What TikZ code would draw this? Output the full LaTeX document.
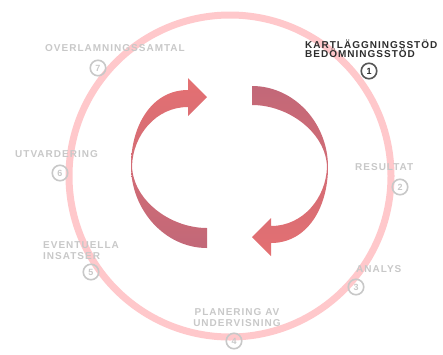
\documentclass[tikz,border=0pt]{standalone}
\usepackage{fontspec}
\usepackage{tikz}
\usetikzlibrary{shapes,positioning,calc}
\newfontfamily\lblfont[LetterSpace=10]{Liberation Sans}
\definecolor{ringpink}{RGB}{255,200,203}
\definecolor{lblgray}{RGB}{200,200,200}
\definecolor{lbldark}{RGB}{45,45,45}
\definecolor{arrlight}{RGB}{228,112,114}
\definecolor{arrdark}{RGB}{194,104,120}

\begin{document}
\begin{tikzpicture}[x=1pt, y=-1pt,
    lbl/.style={font=\lblfont\bfseries\fontsize{10}{11}\selectfont, text=lblgray, inner sep=0pt, align=left, anchor=base west},
    num/.style={draw=lblgray, circle, line width=1.6pt, minimum size=15.5pt, inner sep=0pt, text=lblgray, font=\lblfont\bfseries\fontsize{9}{9}\selectfont},
    cyclearrow/.style={draw=none}
]
\useasboundingbox (0,0) rectangle (443,354);

% Big ring
\draw[ringpink, line width=7pt] (230,176) circle (161);

% Cycle arrows
\shade[cyclearrow, top color=arrlight, bottom color=arrdark]
  (207,228) -- (207,248) .. controls (165,248) and (131,210) .. (131,166)
  .. controls (131,125) and (152,90) .. (188,90) -- (188,78) -- (207,97)
  -- (188,116) -- (188,107) .. controls (156,107) and (133,135) .. (132,166)
  .. controls (133,200) and (170,228) .. (207,228) -- cycle;
\shade[cyclearrow, top color=arrdark, bottom color=arrlight]
  (252,105) -- (252,86) .. controls (294,86) and (328,123) .. (328,167)
  .. controls (328,208) and (307,243) .. (271,243) -- (271,256) -- (252,237)
  -- (271,218) -- (271,226) .. controls (303,226) and (326,198) .. (327,167)
  .. controls (326,133) and (289,105) .. (252,105) -- cycle;

% Step 1
\node[lbl, text=lbldark, font=\lblfont\bfseries\fontsize{10}{9}\selectfont] (kart) at (305,57) {KARTLÄGGNINGSSTÖD\\BEDÖMNINGSSTÖD};
\node[num, draw=lbldark!80, text=lbldark] (n1) at (369,71) {1};

% Step 2
\node[lbl] (result) at (355,170) {RESULTAT};
\node[num] (n2) at (400,187) {2};

% Step 3
\node[lbl] (analys) at (356,272) {ANALYS};
\node[num] (n3) at (356,287) {3};

% Step 4
\node[lbl, align=center, anchor=base] (planering) at (237,326) {PLANERING AV\\UNDERVISNING};
\node[num] (n4) at (234,341) {4};

% Step 5
\node[lbl] (insatser) at (43,259) {EVENTUELLA\\INSATSER};
\node[num] (n5) at (91,272) {5};

% Step 6
\node[lbl] (utv) at (15,157) {UTVARDERING};
\node[num] (n6) at (60,173) {6};

% Step 7
\node[lbl] (overl) at (45,51) {OVERLAMNINGSSAMTAL};
\node[num] (n7) at (98,68) {7};
\end{tikzpicture}
\end{document}
